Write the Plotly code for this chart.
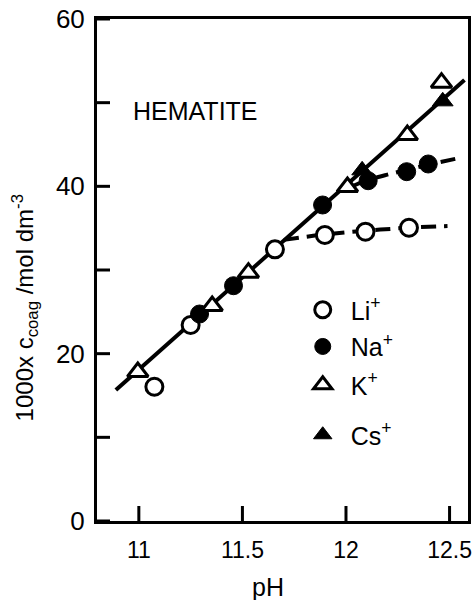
import plotly.graph_objects as go

# Coagulation concentration of hematite vs pH for alkali cations
li_ph = [11.075, 11.25, 11.657, 11.898, 12.094, 12.304]
li_c = [16.05, 23.43, 32.47, 34.18, 34.58, 35.05]

na_ph = [11.293, 11.457, 11.887, 12.107, 12.293, 12.397]
na_c = [24.74, 28.12, 37.77, 40.67, 41.75, 42.67]

k_ph = [10.995, 11.354, 11.529, 12.007, 12.296, 12.461]
k_c = [17.81, 25.70, 29.68, 39.92, 46.13, 52.39]

cs_ph = [12.078, 12.467]
cs_c = [41.91, 50.16]

# Common straight line and the two dashed branches
fit_ph = [10.889, 12.572]
fit_c = [15.66, 52.71]

li_branch_ph = [11.70, 11.90, 12.10, 12.30, 12.49]
li_branch_c = [33.6, 34.25, 34.7, 35.05, 35.25]

na_branch_ph = [12.03, 12.10, 12.20, 12.30, 12.40, 12.56]
na_branch_c = [40.0, 40.7, 41.4, 42.0, 42.6, 43.45]

x_range = [10.798, 12.589]
y_range = [0, 60]
x_ticks = [11, 11.5, 12, 12.5]
x_labels = ["11", "11.5", "12", "12.5"]
y_ticks = [0, 10, 20, 30, 40, 50, 60]
y_labels = ["0", "", "20", "", "40", "", "60"]

FONT = "Liberation Sans, Arial, sans-serif"
INK = "black"

fig = go.Figure()

fig.add_trace(go.Scatter(x=fit_ph, y=fit_c, mode="lines",
                         line=dict(color=INK, width=4), showlegend=False))
fig.add_trace(go.Scatter(x=li_branch_ph, y=li_branch_c, mode="lines",
                         line=dict(color=INK, width=4, dash="15px,8px"),
                         line_shape="spline", showlegend=False))
fig.add_trace(go.Scatter(x=na_branch_ph, y=na_branch_c, mode="lines",
                         line=dict(color=INK, width=4, dash="15px,8px"),
                         line_shape="spline", showlegend=False))

fig.add_trace(go.Scatter(x=li_ph, y=li_c, mode="markers", name="Li<sup>+</sup>",
                         marker=dict(symbol="circle", size=17, color="white",
                                     line=dict(color=INK, width=3)),
                         legend="legend"))
fig.add_trace(go.Scatter(x=na_ph, y=na_c, mode="markers", name="Na<sup>+</sup>",
                         marker=dict(symbol="circle", size=18, color=INK,
                                     line=dict(color=INK, width=1)),
                         legend="legend2"))
fig.add_trace(go.Scatter(x=k_ph, y=k_c, mode="markers", name="K<sup>+</sup>",
                         marker=dict(symbol="triangle-up", size=18, color="white",
                                     line=dict(color=INK, width=3)),
                         legend="legend3"))
fig.add_trace(go.Scatter(x=cs_ph, y=cs_c, mode="markers", name="Cs<sup>+</sup>",
                         marker=dict(symbol="triangle-up", size=18, color=INK,
                                     line=dict(color=INK, width=1)),
                         legend="legend4"))

legend_common = dict(xref="paper", yref="paper", xanchor="left", yanchor="middle",
                     bgcolor="rgba(0,0,0,0)", borderwidth=0, itemwidth=46,
                     font=dict(family=FONT, size=25, color=INK))
lx = 0.533
fig.update_layout(
    legend=dict(x=lx, y=0.4203, **legend_common),
    legend2=dict(x=lx, y=0.3472, **legend_common),
    legend3=dict(x=lx, y=0.2709, **legend_common),
    legend4=dict(x=lx, y=0.1713, **legend_common),
)

fig.add_annotation(text="HEMATITE", x=0.266, y=0.8167, xref="paper", yref="paper",
                   xanchor="center", yanchor="middle", showarrow=False,
                   font=dict(family=FONT, size=25, color=INK))
fig.add_annotation(text="pH", x=0.4613, y=-0.1315, xref="paper", yref="paper",
                   xanchor="center", yanchor="middle", showarrow=False,
                   font=dict(family=FONT, size=25, color=INK))
fig.add_annotation(text="1000x c<sub>coag</sub> /mol dm<sup>-3</sup>",
                   x=-0.1947, y=0.425, xref="paper", yref="paper", textangle=-90,
                   xanchor="center", yanchor="middle", showarrow=False,
                   font=dict(family=FONT, size=24, color=INK))

# Inward tick stubs on the bottom and left axes, placed in data units
# along the axis and sized in pixels across it
for v in x_ticks:
    fig.add_shape(type="line", xref="x", yref="y", x0=v, x1=v,
                  ysizemode="pixel", yanchor=y_range[0], y0=0, y1=15,
                  line=dict(color=INK, width=3))
for v in y_ticks:
    fig.add_shape(type="line", xref="x", yref="y", y0=v, y1=v,
                  xsizemode="pixel", xanchor=x_range[0], x0=0, x1=13,
                  line=dict(color=INK, width=3))

fig.update_xaxes(range=x_range, tickmode="array", tickvals=x_ticks,
                 ticktext=x_labels, ticks="", showline=True, linewidth=3,
                 linecolor=INK, mirror=True, showgrid=False, zeroline=False,
                 ticklabeloverflow="allow", ticklabelstandoff=6,
                 tickfont=dict(family=FONT, size=23, color=INK))
fig.update_yaxes(range=y_range, tickmode="array", tickvals=y_ticks,
                 ticktext=y_labels, ticks="", showline=True, linewidth=3,
                 linecolor=INK, mirror=True, showgrid=False, zeroline=False,
                 ticklabelstandoff=4,
                 tickfont=dict(family=FONT, size=26, color=INK))

fig.update_layout(width=474, height=600, margin=dict(l=97, r=2, t=19, b=79),
                  paper_bgcolor="white", plot_bgcolor="white")

fig.write_html("out.html")
